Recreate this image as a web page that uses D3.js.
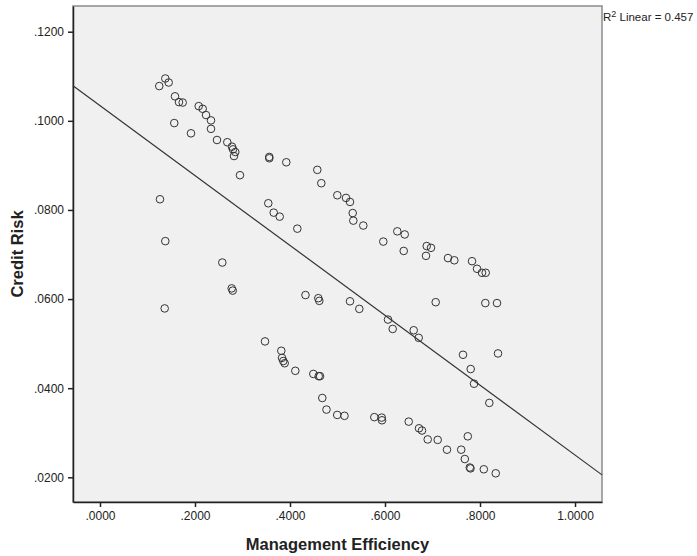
<!DOCTYPE html>
<html>
<head>
<meta charset="utf-8">
<script src="https://cdnjs.cloudflare.com/ajax/libs/d3/7.8.5/d3.min.js"></script>
<style>
  body { margin: 0; background: #fff; }
  svg { display: block; font-family: "Liberation Sans", Arial, sans-serif; }
</style>
</head>
<body>
<div id="chart"></div>
<script>
// management efficiency (x) and credit risk (y)
var mgmtEff = [
    .1248, .1375, .1446, .1579, .1663, .1741, .1564, .1916, .2078, .2162,
    .2232, .2337, .2337, .2463, .2680, .2779, .2800, .2848, .2821, .3564,
    .3564, .3922, .2947, .4575, .4659, .4996, .5179, .5263, .5320, .5333,
    .5543, .5964, .6259, .6415, .6394, .6878, .6968, .6863, .7326, .7459,
    .7832, .7937, .8042, .8120,
    .1263, .1375, .1362, .2575, .2773, .2794, .3543, .3657, .3783, .4154,
    .4326, .4596, .4617, .5263, .5459, .7067, .8112, .8358, .6063, .6162,
    .6604, .6709, .7642, .8379, .7804, .7874, .8196,
    .3474, .3817, .3832, .3859, .3888, .4112, .4491, .4604, .4632, .4680,
    .4768, .4994, .5147, .5775, .5931, .5937, .6499, .6716, .6779, .6899,
    .7109, .7305, .7743, .7604, .7680, .7785, .7800, .8080, .8331
];
var creditRisk = [
    .1078, .1095, .1086, .1055, .1042, .1041, .0995, .0972, .1033, .1027,
    .1013, .1001, .0982, .0957, .0952, .0942, .0936, .0930, .0921, .0919,
    .0916, .0907, .0878, .0890, .0860, .0833, .0827, .0818, .0793, .0776,
    .0765, .0729, .0752, .0745, .0708, .0719, .0715, .0697, .0692, .0687,
    .0685, .0668, .0659, .0659,
    .0824, .0730, .0579, .0682, .0624, .0619, .0815, .0794, .0785, .0758,
    .0609, .0602, .0596, .0595, .0578, .0593, .0591, .0591, .0554, .0533,
    .0530, .0513, .0475, .0478, .0443, .0410, .0367,
    .0505, .0484, .0468, .0461, .0456, .0439, .0432, .0427, .0427, .0378,
    .0352, .0340, .0338, .0335, .0334, .0328, .0325, .0310, .0305, .0285,
    .0284, .0262, .0292, .0262, .0241, .0222, .0220, .0218, .0209
];

var xTicks = [0, .2, .4, .6, .8, 1.0],
    yTicks = [.02, .04, .06, .08, .10, .12];

// fitted linear line (intercept, slope) and its r squared
var fitIntercept = .1034,
    fitSlope = -.0784,
    rSquared = "0.457";

var width = 697,
    height = 556,
    margin = {top: 6, right: 95, bottom: 54, left: 73};

var x = d3.scaleLinear()
        .domain([-0.0568, 1.0568])
        .range([margin.left, width - margin.right]),
    y = d3.scaleLinear()
        .domain([.01446, .12577])
        .range([height - margin.bottom, margin.top]);

var fmt = function(d) {
    return d3.format(".4f")(d).replace(/^0\./, ".");
};

var svg = d3.select("#chart")
    .append("svg")
        .attr("width", width)
        .attr("height", height);

// plot background + frame
svg.append("rect")
    .attr("x", margin.left)
    .attr("y", margin.top)
    .attr("width", width - margin.right - margin.left)
    .attr("height", height - margin.bottom - margin.top)
    .attr("fill", "#f0f0f0")
    .attr("stroke", "#8c8c8c")
    .attr("stroke-width", 1.5);

var xaxis = svg.append("g")
    .attr("transform", "translate(0," + (height - margin.bottom) + ")")
    .call(d3.axisBottom(x).tickValues(xTicks).tickFormat(fmt).tickSizeInner(5).tickSizeOuter(0).tickPadding(4));
var yaxis = svg.append("g")
    .attr("transform", "translate(" + margin.left + ",0)")
    .call(d3.axisLeft(y).tickValues(yTicks).tickFormat(fmt).tickSizeInner(5).tickSizeOuter(0).tickPadding(4));

svg.selectAll(".domain")
    .attr("stroke", "#222")
    .attr("stroke-width", 1.5);
svg.selectAll(".tick line")
    .attr("stroke", "#222")
    .attr("stroke-width", 1.5);
svg.selectAll(".tick text")
    .attr("font-size", "12px")
    .attr("fill", "#222")
    .attr("font-family", "Liberation Sans, Arial, sans-serif");

// fit line across the whole plot area
var xd = x.domain();
svg.append("line")
    .attr("x1", x(xd[0]))
    .attr("y1", y(fitIntercept + fitSlope * xd[0]))
    .attr("x2", x(xd[1]))
    .attr("y2", y(fitIntercept + fitSlope * xd[1]))
    .attr("stroke", "#333")
    .attr("stroke-width", 1.2);

svg.append("g")
    .selectAll("circle")
    .data(mgmtEff)
    .enter().append("circle")
        .attr("cx", function(d) { return x(d); })
        .attr("cy", function(d, i) { return y(creditRisk[i]); })
        .attr("r", 3.8)
        .attr("fill", "none")
        .attr("stroke", "#333")
        .attr("stroke-width", 1);

// r squared label
var r2 = svg.append("text")
    .attr("x", width - margin.right + 1)
    .attr("y", 21)
    .attr("font-size", "11.5px")
    .attr("fill", "#222");
r2.append("tspan").text("R");
r2.append("tspan").attr("font-size", "9px").attr("dy", -4).text("2");
r2.append("tspan").attr("dy", 4).text(" Linear = " + rSquared);

svg.append("text")
    .attr("x", (margin.left + width - margin.right) / 2)
    .attr("y", 550)
    .attr("text-anchor", "middle")
    .attr("font-size", "16.5px")
    .attr("font-weight", "bold")
    .attr("fill", "#222")
    .text("Management Efficiency");

svg.append("text")
    .attr("transform", "translate(23," + ((margin.top + height - margin.bottom) / 2) + ") rotate(-90)")
    .attr("text-anchor", "middle")
    .attr("font-size", "16.5px")
    .attr("font-weight", "bold")
    .attr("fill", "#222")
    .text("Credit Risk");
</script>
</body>
</html>
